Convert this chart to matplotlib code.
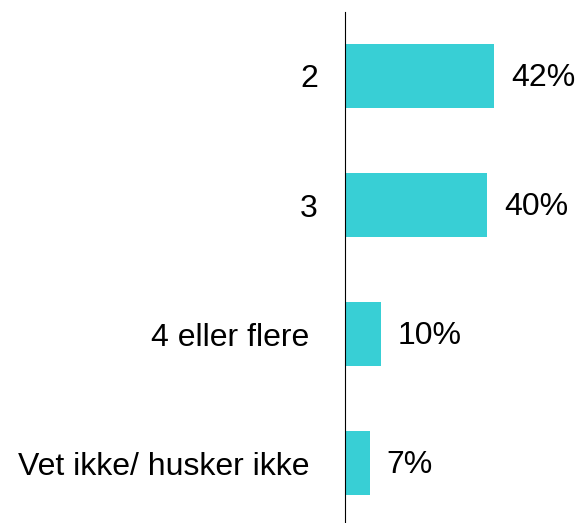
import matplotlib
matplotlib.use("Agg")
import matplotlib.pyplot as plt

categories = ["2", "3", "4 eller flere ", "Vet ikke/ husker ikke "]
values = [42, 40, 10, 7]
value_labels = ["42%", "40%", "10%", "7%"]

plt.rcParams['font.family'] = ['Liberation Sans', 'DejaVu Sans']

W, H = 578, 523
fig = plt.figure(figsize=(W/100, H/100), dpi=100)
left, right = 345/W, 576/W
bottom, top = 1 - 522/H, 1 - 12/H
ax = fig.add_axes([left, bottom, right-left, top-bottom])

y = list(range(len(categories)))
ax.barh(y, values, height=0.5, color="#38CFD5")
ax.set_xlim(0, 65)
ax.set_ylim(3.457, -0.496)
ax.set_yticks(y)
ax.set_yticklabels(categories, fontsize=23)
ax.tick_params(axis='y', length=0, pad=19.5)
ax.set_xticks([])
for s in ["top", "right", "bottom"]:
    ax.spines[s].set_visible(False)
ax.spines["left"].set_linewidth(0.8)
ax.spines["left"].set_color("black")

for yi, v, lab in zip(y, values, value_labels):
    ax.annotate(lab, (v, yi), xytext=(12, -1.5), textcoords="offset points",
                va="center", ha="left", fontsize=23)

fig.savefig("out.png", dpi=100)
